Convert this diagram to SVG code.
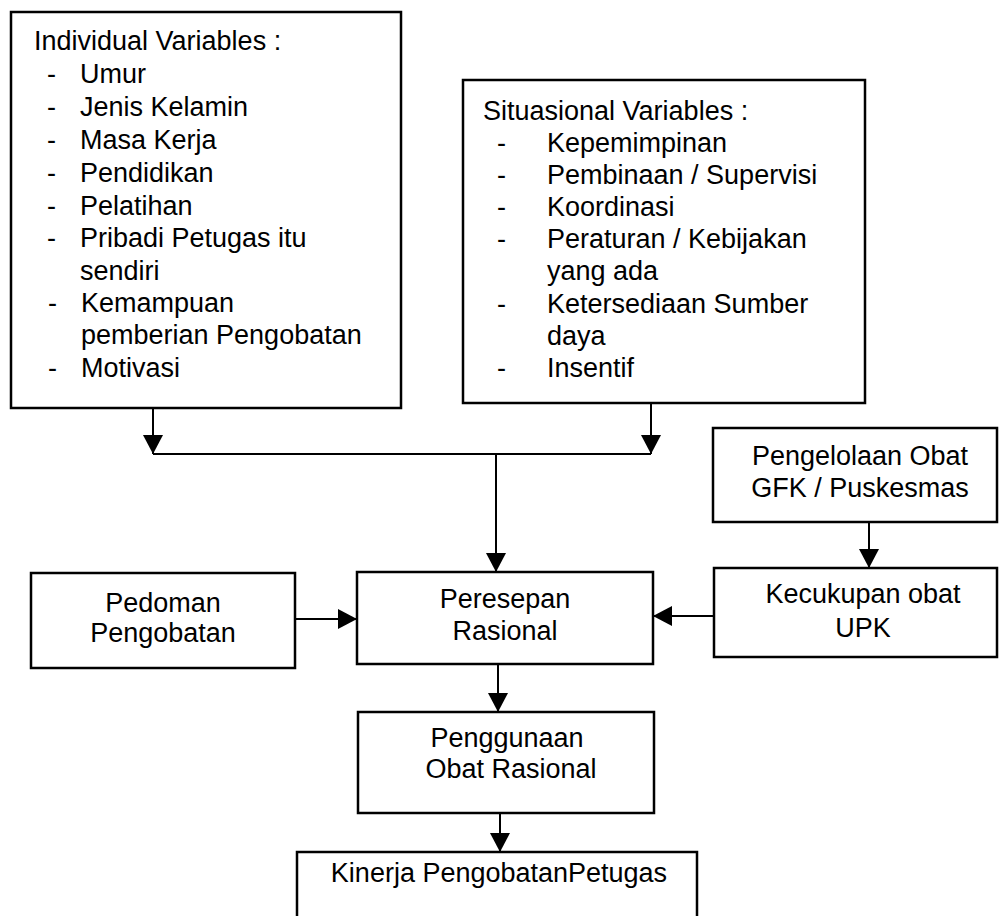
<svg xmlns="http://www.w3.org/2000/svg" width="999" height="916" viewBox="0 0 999 916">
<style>
.box{fill:#fff;stroke:#000;stroke-width:2.5}
.t{font-family:"Liberation Sans",Arial,sans-serif;font-size:27px;fill:#000}
.c{text-anchor:middle}
.ln{fill:none;stroke:#000;stroke-width:2}
</style>
<defs>
<marker id="ah" markerUnits="userSpaceOnUse" markerWidth="20" markerHeight="20" refX="19" refY="10" orient="auto">
<path d="M0,0 L19,10 L0,20 Z" fill="#000"/>
</marker>
</defs>
<rect width="999" height="916" fill="#fff"/>
<g id="connectors">
<line class="ln" x1="153" y1="408" x2="153" y2="454" marker-end="url(#ah)"/>
<line class="ln" x1="651" y1="403" x2="651" y2="454" marker-end="url(#ah)"/>
<polyline class="ln" points="153,454 651,454"/>
<line class="ln" x1="496" y1="454" x2="496" y2="572" marker-end="url(#ah)"/>
<line class="ln" x1="295" y1="619" x2="357" y2="619" marker-end="url(#ah)"/>
<line class="ln" x1="714" y1="616" x2="653" y2="616" marker-end="url(#ah)"/>
<line class="ln" x1="869" y1="522" x2="869" y2="568" marker-end="url(#ah)"/>
<line class="ln" x1="498" y1="664" x2="498" y2="712" marker-end="url(#ah)"/>
<line class="ln" x1="500" y1="803" x2="500" y2="852" marker-end="url(#ah)"/>
</g>
<g id="individual">
<rect class="box" x="11" y="12" width="390" height="396"/>
<text class="t" x="34" y="50">Individual Variables :</text>
<g class="t">
<text x="47" y="83">-</text><text x="80" y="83">Umur</text>
<text x="47" y="116">-</text><text x="80" y="116">Jenis Kelamin</text>
<text x="47" y="149">-</text><text x="80" y="149">Masa Kerja</text>
<text x="47" y="182">-</text><text x="80" y="182">Pendidikan</text>
<text x="47" y="215">-</text><text x="80" y="215">Pelatihan</text>
<text x="47" y="247">-</text><text x="80" y="247">Pribadi Petugas itu</text>
<text x="80" y="280">sendiri</text>
<text x="48" y="312">-</text><text x="81" y="312">Kemampuan</text>
<text x="81" y="344">pemberian Pengobatan</text>
<text x="48" y="377">-</text><text x="81" y="377">Motivasi</text>
</g>
</g>
<g id="situational">
<rect class="box" x="463" y="80" width="402" height="323"/>
<text class="t" x="483" y="120">Situasional Variables :</text>
<g class="t">
<text x="497" y="152">-</text><text x="547" y="152">Kepemimpinan</text>
<text x="497" y="184">-</text><text x="547" y="184">Pembinaan / Supervisi</text>
<text x="497" y="216">-</text><text x="547" y="216">Koordinasi</text>
<text x="497" y="248">-</text><text x="547" y="248">Peraturan / Kebijakan</text>
<text x="547" y="280">yang ada</text>
<text x="497" y="313">-</text><text x="547" y="313">Ketersediaan Sumber</text>
<text x="547" y="345">daya</text>
<text x="497" y="377">-</text><text x="547" y="377">Insentif</text>
</g>
</g>
<g id="pengelolaan">
<rect class="box" x="713" y="428" width="284" height="94"/>
<text class="t c" x="860" y="465">Pengelolaan Obat</text>
<text class="t c" x="860" y="497">GFK / Puskesmas</text>
</g>
<g id="pedoman">
<rect class="box" x="31" y="573" width="264" height="95"/>
<text class="t c" x="163" y="612">Pedoman</text>
<text class="t c" x="163" y="642">Pengobatan</text>
</g>
<g id="peresepan">
<rect class="box" x="357" y="572" width="296" height="92"/>
<text class="t c" x="505" y="608">Peresepan</text>
<text class="t c" x="505" y="640">Rasional</text>
</g>
<g id="kecukupan">
<rect class="box" x="714" y="568" width="283" height="89"/>
<text class="t c" x="863" y="603">Kecukupan obat</text>
<text class="t c" x="863" y="637">UPK</text>
</g>
<g id="penggunaan">
<rect class="box" x="358" y="712" width="296" height="101"/>
<text class="t c" x="507" y="747">Penggunaan</text>
<text class="t c" x="511" y="778">Obat Rasional</text>
</g>
<g id="kinerja">
<rect class="box" x="297" y="852" width="400" height="80"/>
<text class="t c" x="499" y="882">Kinerja PengobatanPetugas</text>
</g>
</svg>
